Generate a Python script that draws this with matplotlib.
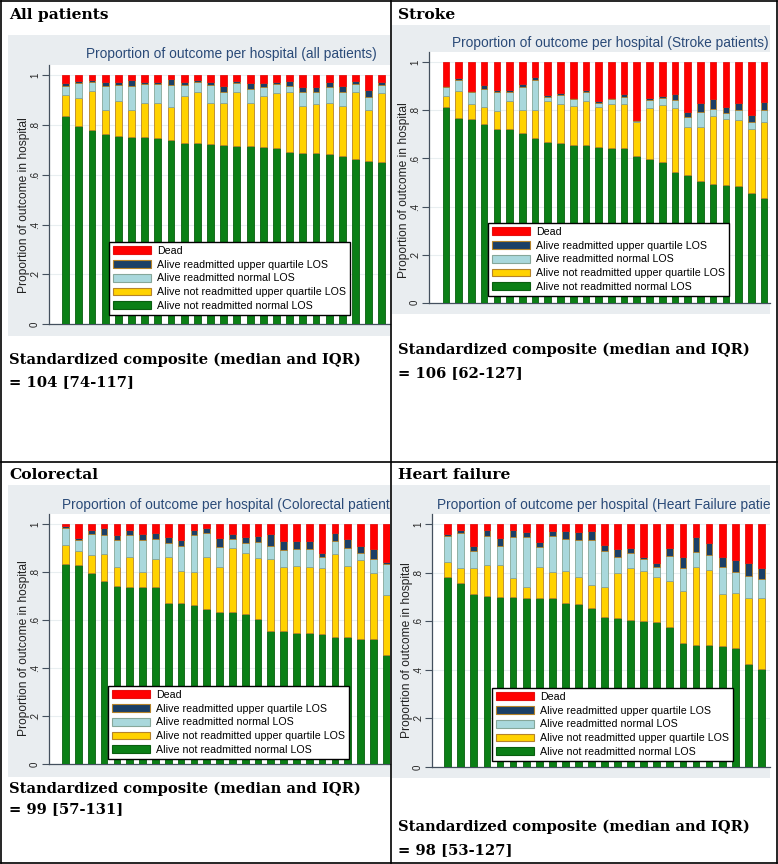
import numpy as np
import matplotlib.pyplot as plt
from matplotlib.patches import Rectangle, Patch
from matplotlib.lines import Line2D
from matplotlib.transforms import Bbox

# cumulative level of each outcome per hospital
# G: alive not readmitted normal LOS
# Y: G + alive not readmitted upper quartile LOS
# L: Y + alive readmitted normal LOS
# D: L + alive readmitted upper quartile LOS   (the rest up to 1 is dead)
all_G = [.836, .797, .780, .764, .756, .753, .751, .747, .740, .729, .729, .724, .720,
         .717, .716, .713, .709, .693, .686, .686, .682, .676, .662, .657, .653]
all_Y = [.922, .907, .937, .861, .896, .861, .887, .890, .874, .917, .934, .890, .887,
         .934, .890, .918, .930, .934, .877, .883, .887, .877, .934, .861, .928]
all_L = [.958, .968, .975, .957, .961, .957, .964, .964, .961, .961, .975, .961, .934,
         .968, .944, .954, .965, .957, .934, .934, .952, .934, .965, .914, .961]
all_D = [.969, .979, .981, .975, .975, .981, .975, .975, .984, .975, .981, .975, .957,
         .977, .968, .968, .975, .977, .954, .954, .975, .957, .977, .941, .975]

stroke_G = [.813, .767, .763, .743, .721, .721, .705, .687, .667, .663, .656, .656, .646,
            .643, .642, .610, .599, .585, .542, .531, .506, .494, .488, .485, .455, .434]
stroke_Y = [.861, .881, .827, .816, .797, .839, .802, .802, .841, .827, .818, .839, .816,
            .827, .827, .753, .809, .822, .809, .732, .732, .777, .763, .760, .721, .753]
stroke_L = [.898, .926, .877, .888, .878, .876, .896, .926, .857, .865, .846, .876, .832,
            .846, .857, .757, .843, .853, .843, .771, .795, .806, .791, .802, .753, .802]
stroke_D = [.902, .933, .881, .906, .885, .883, .908, .940, .864, .873, .850, .883, .839,
            .850, .867, .760, .850, .860, .867, .795, .830, .847, .813, .829, .781, .836]

colo_G = [.834, .829, .795, .763, .742, .736, .736, .736, .673, .670, .663, .645, .635,
          .632, .624, .603, .556, .556, .548, .545, .542, .528, .528, .520, .520, .455]
colo_Y = [.913, .889, .871, .875, .820, .864, .802, .854, .864, .806, .802, .861, .822,
          .899, .878, .857, .853, .822, .825, .822, .816, .874, .825, .850, .797, .705]
colo_L = [.985, .933, .958, .954, .933, .954, .933, .936, .920, .908, .954, .964, .903,
          .936, .922, .926, .909, .892, .895, .895, .864, .929, .899, .881, .853, .834]
colo_D = [.993, .940, .975, .982, .954, .975, .958, .964, .947, .933, .975, .982, .940,
          .958, .947, .950, .958, .931, .930, .931, .878, .964, .937, .909, .894, .843]

hf_G = [.782, .757, .713, .706, .702, .702, .698, .698, .695, .677, .672, .654, .620,
        .613, .606, .603, .599, .578, .512, .503, .501, .499, .492, .424, .402]
hf_Y = [.846, .819, .819, .832, .832, .777, .743, .826, .802, .809, .784, .750, .740,
        .801, .821, .808, .782, .768, .725, .826, .812, .712, .716, .698, .698]
hf_L = [.952, .966, .891, .952, .911, .946, .946, .905, .952, .938, .935, .935, .891,
        .867, .880, .856, .826, .869, .821, .887, .874, .823, .802, .787, .773]
hf_D = [.960, .977, .911, .977, .942, .977, .970, .929, .973, .974, .970, .974, .915,
        .897, .901, .867, .839, .901, .867, .949, .922, .867, .853, .839, .818]

outcomes = ['Alive not readmitted normal LOS', 'Alive not readmitted upper quartile LOS',
            'Alive readmitted normal LOS', 'Alive readmitted upper quartile LOS', 'Dead']
fills = ['#0B7F16', '#FFD200', '#A9D8DC', '#1B3F66', '#FF0000']
edges = ['#0A5E10', '#B5832A', '#86A79A', '#B5832A', '#E41010']

W, H = 778, 864
fig = plt.figure(figsize=(W / 100, H / 100), dpi=100)
renderer = fig.canvas.get_renderer()
SANS = 'Liberation Sans'
SERIF = 'DejaVu Serif'
TITLE_BLUE = '#2A4A78'
GREY_BG = '#E9EDF0'


def fx(x):
    return x / W


def fy(y):
    return 1 - y / H


def fit(txt, width_px):
    w = txt.get_window_extent(renderer).width
    txt.set_fontsize(txt.get_fontsize() * width_px / w)
    return txt.get_fontsize()


# font sizes tuned to the widths in the picture
probe = fig.text(0, 0, 'Standardized composite (median and IQR)', fontfamily=SERIF,
                 fontweight='bold', fontsize=12)
serif_size = fit(probe, 351)
probe.remove()
probe = fig.text(0, 0, 'Proportion of outcome per hospital (all patients)', fontfamily=SANS, fontsize=10)
title_size = fit(probe, 291)
probe.remove()
probe = fig.text(0, 0, 'Alive not readmitted upper quartile LOS', fontfamily=SANS, fontsize=8)
legend_size = fit(probe, 188)
probe.remove()
probe = fig.text(0, 0, 'Proportion of outcome in hospital', fontfamily=SANS, fontsize=8)
ylab_size = fit(probe, 178)
probe.remove()


def chart(levels, grey, box, y1, y0, first, step, title, title_xy, ylab_y, leg_xy):
    gx0, gy0, gx1, gy1 = grey
    fig.add_artist(Rectangle((fx(gx0), fy(gy1)), (gx1 - gx0) / W, (gy1 - gy0) / H,
                             transform=fig.transFigure, facecolor=GREY_BG,
                             edgecolor='none', zorder=-1))
    left, top, right = box
    ax = fig.add_axes([fx(left), fy(y0), (right - left) / W, (y0 - top) / H])
    ax.set_facecolor('white')
    n = len(levels[0])
    x = np.arange(n)
    lv = [np.zeros(n)] + [np.array(v) for v in levels] + [np.ones(n)]
    for k in range(5):
        ax.bar(x, lv[k + 1] - lv[k], bottom=lv[k], width=0.52, color=fills[k],
               edgecolor=edges[k], linewidth=0.6, zorder=3)
    ax.set_xlim((left - first) / step, (right - first) / step)
    ax.set_ylim(0, (y0 - top) / (y0 - y1))
    ax.set_yticks([0, .2, .4, .6, .8, 1])
    ax.set_yticklabels(['0', '.2', '.4', '.6', '.8', '1'], rotation=90, va='center',
                       fontsize=7, fontfamily=SANS, color='#222222')
    ax.tick_params(axis='y', length=5, width=0.8, color='#44505E', pad=1.5)
    ax.set_xticks([])
    ax.grid(axis='y', color='#E8EEF0', linewidth=0.8, zorder=0)
    for s in ['top', 'right']:
        ax.spines[s].set_visible(False)
    for s in ['left', 'bottom']:
        ax.spines[s].set_color('#44505E')
        ax.spines[s].set_linewidth(0.9)
    handles = [Patch(facecolor=fills[k], edgecolor=edges[k], linewidth=0.8) for k in range(4, -1, -1)]
    leg = ax.legend(handles, outcomes[::-1], loc='upper left',
                    bbox_to_anchor=(fx(leg_xy[0]), fy(leg_xy[1])), bbox_transform=fig.transFigure,
                    prop={'family': SANS, 'size': legend_size},
                    handlelength=3.6, handleheight=0.75, labelspacing=0.36,
                    handletextpad=0.55, borderpad=0.35, borderaxespad=0,
                    fancybox=False, framealpha=1)
    leg.get_frame().set_edgecolor('black')
    leg.get_frame().set_linewidth(1.0)
    leg.set_zorder(6)
    t = fig.text(fx(title_xy[0]), fy(title_xy[1]), title, fontfamily=SANS, fontsize=title_size,
                 color=TITLE_BLUE, va='center', ha='left')
    t.set_clip_box(Bbox.from_extents(gx0, H - gy1, gx1, H - gy0))
    t.set_clip_on(True)
    fig.text(fx(left - 25), fy(ylab_y), 'Proportion of outcome in hospital', rotation=90,
             fontfamily=SANS, fontsize=ylab_size, color='#222222', ha='center', va='center')
    return ax


def cell_text(title, title_xy, line2, comp_y1, comp_y2):
    fig.text(fx(title_xy[0]), fy(title_xy[1]), title, fontfamily=SERIF, fontweight='bold',
             fontsize=serif_size * 1.05, va='center', ha='left')
    fig.text(fx(title_xy[0]), fy(comp_y1), 'Standardized composite (median and IQR)',
             fontfamily=SERIF, fontweight='bold', fontsize=serif_size, va='center', ha='left')
    fig.text(fx(title_xy[0]), fy(comp_y2), line2,
             fontfamily=SERIF, fontweight='bold', fontsize=serif_size, va='center', ha='left')


chart([all_G, all_Y, all_L, all_D], (8, 35, 390, 336), (49, 65, 390), 75.3, 324,
      65.7, 13.17, 'Proportion of outcome per hospital (all patients)', (86, 54), 205, (109, 242))
chart([stroke_G, stroke_Y, stroke_L, stroke_D], (392, 25, 770, 314), (429, 52, 770), 62.3, 302.7,
      446, 12.72, 'Proportion of outcome per hospital (Stroke patients)', (452, 43), 190, (488, 223))
chart([colo_G, colo_Y, colo_L, colo_D], (8, 485, 390, 777), (49, 514, 390), 524, 764.3,
      65.7, 12.82, 'Proportion of outcome per hospital (Colorectal patients)', (62, 505), 648, (108, 686))
chart([hf_G, hf_Y, hf_L, hf_D], (392, 485, 770, 778), (432, 514, 770), 524.3, 767,
      447.7, 13.07, 'Proportion of outcome per hospital (Heart Failure patients)', (437, 505), 650, (492, 688))

cell_text('All patients', (9, 15), '= 104 [74-117]', 360, 382)
cell_text('Stroke', (398, 15), '= 106 [62-127]', 350, 373)
cell_text('Colorectal', (9, 475), '= 99 [57-131]', 789, 809)
cell_text('Heart failure', (398, 475), '= 98 [53-127]', 827, 850)

# table borders
for xs, ys in [([1, 777], [1, 1]), ([1, 777], [863, 863]), ([1, 1], [1, 863]),
               ([777, 777], [1, 863]), ([391, 391], [1, 863]), ([1, 777], [462, 462])]:
    fig.add_artist(Line2D([fx(v) for v in xs], [fy(v) for v in ys], color='black',
                          linewidth=1.2, transform=fig.transFigure, zorder=10))

fig.savefig('out.png', dpi=100)
